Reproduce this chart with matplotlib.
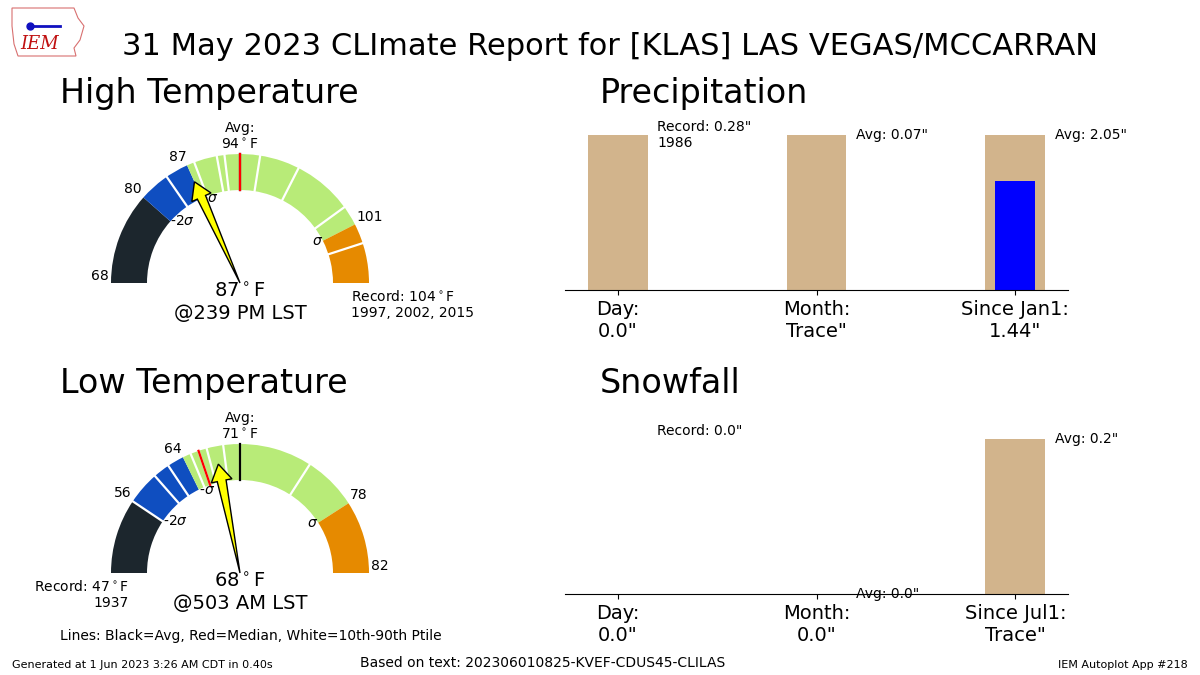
import matplotlib
matplotlib.use('Agg')
import matplotlib.pyplot as plt
from matplotlib.patches import Wedge, Polygon
import numpy as np

# gauge data
high_bounds = [68, 80, 87, 101, 104]
high_avg = 94
high_median = 94
high_ptiles = [84, 88, 91, 92, 94, 95, 97, 100, 102]
high_obs = 87
high_time = '@239 PM LST'
high_record = 104
high_record_years = '1997, 2002, 2015'

low_bounds = [47, 56, 64, 78, 82]
low_avg = 71
low_median = 66
low_ptiles = [56, 60, 62, 65, 66, 67, 69, 71, 75]
low_obs = 68
low_time = '@503 AM LST'
low_record = 47
low_record_years = '1937'

sigma_labels = ['-2$\\sigma$', '-$\\sigma$', '$\\sigma$']
seg_colors = ['#1c262d', '#0f4ec0', '#b8eb78', '#e68a00']

# precipitation / snowfall
precip_cats = ['Day', 'Month', 'Since Jan1']
precip_obs = [0.0, 0.0001, 1.44]
precip_obs_txt = ['0.0"', 'Trace"', '1.44"']
precip_ref = [0.28, 0.07, 2.05]
precip_ref_lbl = ['Record', 'Avg', 'Avg']
precip_rec_year = '1986'

snow_cats = ['Day', 'Month', 'Since Jul1']
snow_obs = [0.0, 0.0, 0.0001]
snow_obs_txt = ['0.0"', '0.0"', 'Trace"']
snow_ref = [0.0, 0.0, 0.2]
snow_ref_lbl = ['Record', 'Avg', 'Avg']
snow_rec_year = ''

W, H = 1200, 675
R_OUT, R_IN = 129, 93


def px_axes(fig, left, top, width, height):
    '''axes placed in pixel coords (from top-left)'''
    return fig.add_axes([left / W, 1 - (top + height) / H, width / W, height / H])


def to_angle(t, lo, avg, hi):
    if t <= avg:
        return 180 - 90. * (t - lo) / (avg - lo)
    return 90 - 90. * (t - avg) / (hi - avg)


def polar(r, ang):
    a = np.radians(ang)
    return r * np.cos(a), r * np.sin(a)


def needle(ang, length=111, head=17, head_hw=10.5, shaft_hw=4.5):
    '''tapered needle from the center out to the value'''
    u = np.array(polar(1, ang))
    v = np.array([-u[1], u[0]])
    b = u * (length - head)
    pts = [(0, 0), b + shaft_hw * v, b + head_hw * v, u * length,
           b - head_hw * v, b - shaft_hw * v]
    return Polygon(pts, closed=True, fc='yellow', ec='k', lw=1, zorder=10)


def draw_gauge(fig, cx, cy, bounds, avg, median, ptiles, obs, obstime,
               record, record_years):
    ax = px_axes(fig, cx - 180, cy - 160, 360, 210)
    ax.set_xlim(-180, 180)
    ax.set_ylim(-50, 160)
    ax.axis('off')
    lo, hi = bounds[0], bounds[-1]
    ang = lambda t: to_angle(t, lo, avg, hi)

    for i in range(4):
        ax.add_patch(Wedge((0, 0), R_OUT, ang(bounds[i + 1]), ang(bounds[i]),
                           width=R_OUT - R_IN, color=seg_colors[i], lw=0))

    for p in ptiles:
        x0, y0 = polar(R_IN, ang(p))
        x1, y1 = polar(R_OUT, ang(p))
        ax.plot([x0, x1], [y0, y1], color='white', lw=1.6)
    for val, c in [(avg, 'k'), (median, 'r')]:
        x0, y0 = polar(R_IN, ang(val))
        x1, y1 = polar(R_OUT, ang(val))
        ax.plot([x0, x1], [y0, y1], color=c, lw=1.6)

    # outer labels
    for t in bounds:
        if t == record:
            continue
        x, y = polar(R_OUT + 2, ang(t))
        ha = 'right' if ang(t) > 90 else 'left'
        ax.text(x, y, str(t), ha=ha, va='bottom', fontsize=10)
    # sigma labels
    for t, lbl in zip(bounds[1:4], sigma_labels):
        x, y = polar(R_IN, ang(t))
        ha = 'left' if ang(t) > 90 else 'right'
        ax.text(x, y, lbl, ha=ha, va='center', fontsize=10)

    ax.text(0, R_OUT + 2, 'Avg:\n%s$^\\circ$F' % avg, ha='center', va='bottom',
            fontsize=10)

    rx = 111 if ang(record) < 90 else -111
    ax.text(rx, -6, 'Record: %s$^\\circ$F\n%s' % (record, record_years),
            ha='left' if rx > 0 else 'right', va='top', fontsize=10,
            multialignment='left' if rx > 0 else 'right')

    ax.text(0, 1, '%s$^\\circ$F\n%s' % (obs, obstime), ha='center', va='top',
            fontsize=14)

    ax.add_patch(needle(ang(obs)))


def draw_bars(fig, top, cats, obs, obs_txt, ref, ref_lbl, rec_year):
    ax = px_axes(fig, 565, top, 503, 170.5)
    x = np.arange(len(cats))
    ref_h, obs_h = [], []
    for o, r in zip(obs, ref):
        d = max(o, r)
        ref_h.append(r / d if d > 0 else 0)
        obs_h.append(o / d if d > 0 else 0)
    ax.bar(x, ref_h, width=0.3, color='tan')
    ax.bar(x, obs_h, width=0.2, color='b')
    for i in range(len(cats)):
        txt = '%s: %s"' % (ref_lbl[i], ref[i])
        if ref_lbl[i] == 'Record':
            txt += '\n' + rec_year
        ty = 1 if i == 0 else ref_h[i]
        ax.text(i + 0.2, ty, txt, ha='left', va='center', fontsize=10)
    ax.set_xticks(x)
    ax.set_xticklabels(['%s:\n%s' % (c, t) for c, t in zip(cats, obs_txt)],
                       fontsize=14)
    ax.set_yticks([])
    ax.set_ylim(0, 1.1)
    for s in ['top', 'left', 'right']:
        ax.spines[s].set_visible(False)


fig = plt.figure(figsize=(12, 6.75), dpi=100)

fig.text(0.508, 1 - 55 / H, '31 May 2023 CLImate Report for [KLAS] LAS VEGAS/MCCARRAN',
         ha='center', va='baseline', fontsize=22)
fig.text(60 / W, 1 - 103 / H, 'High Temperature', fontsize=24, va='baseline')
fig.text(600 / W, 1 - 103 / H, 'Precipitation', fontsize=24, va='baseline')
fig.text(60 / W, 1 - 393 / H, 'Low Temperature', fontsize=24, va='baseline')
fig.text(600 / W, 1 - 393 / H, 'Snowfall', fontsize=24, va='baseline')

draw_gauge(fig, 240, 283, high_bounds, high_avg, high_median, high_ptiles,
           high_obs, high_time, high_record, high_record_years)
draw_gauge(fig, 240, 573, low_bounds, low_avg, low_median, low_ptiles,
           low_obs, low_time, low_record, low_record_years)

draw_bars(fig, 290 - 170.5, precip_cats, precip_obs, precip_obs_txt,
          precip_ref, precip_ref_lbl, precip_rec_year)
draw_bars(fig, 594 - 170.5, snow_cats, snow_obs, snow_obs_txt,
          snow_ref, snow_ref_lbl, snow_rec_year)

fig.text(60 / W, 1 - 640 / H, 'Lines: Black=Avg, Red=Median, White=10th-90th Ptile',
         fontsize=10, va='baseline')
fig.text(12 / W, 1 - 668 / H, 'Generated at 1 Jun 2023 3:26 AM CDT in 0.40s',
         fontsize=8, va='baseline')
fig.text(543 / W, 1 - 667 / H, 'Based on text: 202306010825-KVEF-CDUS45-CLILAS',
         fontsize=10, va='baseline', ha='center')
fig.text(1188 / W, 1 - 668 / H, 'IEM Autoplot App #218', fontsize=8,
         va='baseline', ha='right')

# rough IEM logo
lax = px_axes(fig, 8, 4, 80, 56)
lax.set_xlim(0, 80)
lax.set_ylim(56, 0)
lax.axis('off')
lax.add_patch(Polygon([(4, 4), (66, 4), (70, 14), (76, 22), (72, 36), (66, 44),
                       (68, 52), (10, 52), (6, 40), (4, 22)],
                      closed=True, fill=False, ec='#d87070', lw=0.8))
lax.plot([22, 52], [22, 22], color='#1010c0', lw=2)
lax.plot([22], [22], 'o', color='#1010c0', ms=5)
lax.text(12, 45, 'IEM', color='#c01010', fontsize=13, family='serif',
         style='italic')

fig.savefig('out.png', dpi=100)
